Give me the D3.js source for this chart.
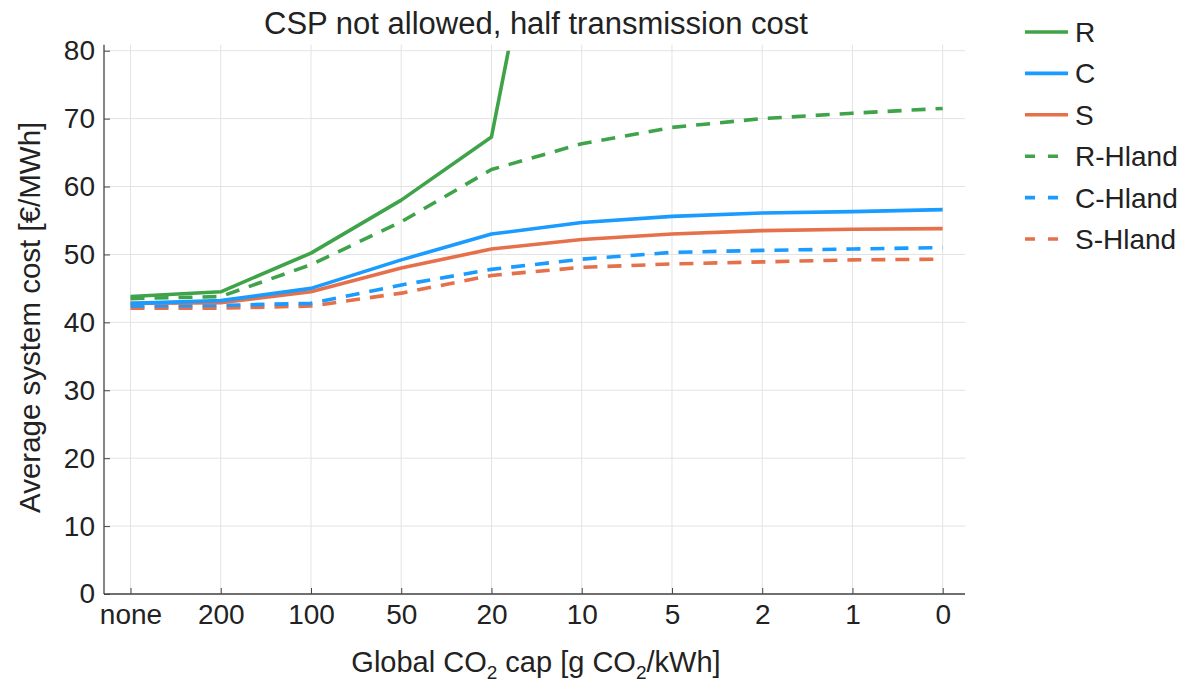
<!DOCTYPE html>
<html><head><meta charset="utf-8">
<script src="https://cdn.jsdelivr.net/npm/d3@7"></script>
<style>body{margin:0;background:#fff}text{font-family:"Liberation Sans",Arial,sans-serif;fill:#222}</style>
</head><body><svg id="c" width="1188" height="684"></svg>
<script>
const categories = ["none","200","100","50","20","10","5","2","1","0"];
const R       = [43.8, 44.5, 50.2, 58.0, 67.3, 135, null, null, null, null];
const C       = [42.8, 43.2, 45.0, 49.2, 53.0, 54.7, 55.6, 56.1, 56.3, 56.6];
const S       = [42.8, 42.9, 44.5, 48.0, 50.8, 52.2, 53.0, 53.5, 53.7, 53.8];
const R_Hland = [43.5, 43.8, 48.5, 54.8, 62.5, 66.3, 68.7, 70.0, 70.8, 71.5];
const C_Hland = [42.4, 42.5, 42.8, 45.5, 47.8, 49.3, 50.3, 50.6, 50.8, 51.0];
const S_Hland = [42.1, 42.1, 42.4, 44.3, 46.9, 48.1, 48.6, 48.9, 49.2, 49.3];
const yTicks = [0,10,20,30,40,50,60,70,80];

const green="#3fa34a", blue="#1a9bff", orange="#e5704a";
const series = [
  {name:"R", vals:R, color:green, dash:null},
  {name:"C", vals:C, color:blue, dash:null},
  {name:"S", vals:S, color:orange, dash:null},
  {name:"R-Hland", vals:R_Hland, color:green, dash:"14,10"},
  {name:"C-Hland", vals:C_Hland, color:blue, dash:"14,10"},
  {name:"S-Hland", vals:S_Hland, color:orange, dash:"14,10"}
];
const FS = 28;

const svg = d3.select("#c");
const L=104, Rt=965, T=50.7, B=594;
const x = d3.scalePoint().domain(categories).range([130.5, 942.7]);
const y = d3.scaleLinear().domain([0,80]).range([B, T]);

svg.append("defs").append("clipPath").attr("id","clip")
  .append("rect").attr("x",L).attr("y",T).attr("width",Rt-L).attr("height",B-T);

// grid
const g = svg.append("g");
g.selectAll(".vg").data(categories).join("line")
  .attr("x1",d=>x(d)).attr("x2",d=>x(d)).attr("y1",T-6).attr("y2",B)
  .attr("stroke","#e3e3e3").attr("stroke-width",1);
g.selectAll(".hg").data(yTicks).join("line")
  .attr("x1",L).attr("x2",Rt).attr("y1",d=>y(d)).attr("y2",d=>y(d))
  .attr("stroke","#e3e3e3").attr("stroke-width",1);

// axes
const xAxis = d3.axisBottom(x).tickSize(-6).tickPadding(10);
const xg = svg.append("g").attr("transform",`translate(0,${B})`).call(xAxis);
xg.select(".domain").remove();
xg.append("line").attr("x1",L).attr("x2",Rt).attr("stroke","#444").attr("stroke-width",1.3);
xg.selectAll(".tick line").attr("stroke","#444");
xg.selectAll(".tick text").attr("font-size",FS).attr("fill","#222").attr("font-family","Liberation Sans, Arial, sans-serif");

const yAxis = d3.axisLeft(y).tickValues(yTicks).tickSize(-6).tickPadding(9);
const yg = svg.append("g").attr("transform",`translate(${L},0)`).call(yAxis);
yg.select(".domain").remove();
yg.append("line").attr("y1",T-6).attr("y2",B).attr("stroke","#444").attr("stroke-width",1.3);
yg.selectAll(".tick line").attr("stroke","#444");
yg.selectAll(".tick text").attr("font-size",FS).attr("fill","#222").attr("font-family","Liberation Sans, Arial, sans-serif");

// lines
const line = d3.line().defined(d=>d[1]!=null).x(d=>x(d[0])).y(d=>y(d[1]));
const lg = svg.append("g").attr("clip-path","url(#clip)");
series.slice().reverse().forEach(s=>{
  lg.append("path").datum(categories.map((c,i)=>[c,s.vals[i]]))
    .attr("d",line).attr("fill","none").attr("stroke",s.color)
    .attr("stroke-width",3.6).attr("stroke-dasharray",s.dash)
    .attr("stroke-linejoin","round");
});

// title and labels
svg.append("text").attr("x",536).attr("y",34).attr("text-anchor","middle")
  .attr("font-size",31).text("CSP not allowed, half transmission cost");
const xl = svg.append("text").attr("x",536).attr("y",672).attr("text-anchor","middle").attr("font-size",29);
xl.append("tspan").text("Global CO");
xl.append("tspan").attr("font-size",19).attr("dy",7).text("2");
xl.append("tspan").attr("dy",-7).text(" cap [g CO");
xl.append("tspan").attr("font-size",19).attr("dy",7).text("2");
xl.append("tspan").attr("dy",-7).text("/kWh]");
svg.append("text").attr("transform",`translate(40,${(T+B)/2-5}) rotate(-90)`)
  .attr("text-anchor","middle").attr("font-size",29.5).text("Average system cost [€/MWh]");

// legend
const leg = svg.append("g");
series.forEach((s,i)=>{
  const yy = 32 + i*41.4;
  leg.append("line").attr("x1",1025).attr("x2",1068).attr("y1",yy).attr("y2",yy)
    .attr("stroke",s.color).attr("stroke-width",3.6)
    .attr("stroke-dasharray",s.dash?"10,13":null);
  leg.append("text").attr("x",1075).attr("y",yy+10).attr("font-size",FS).text(s.name);
});
</script></body></html>
